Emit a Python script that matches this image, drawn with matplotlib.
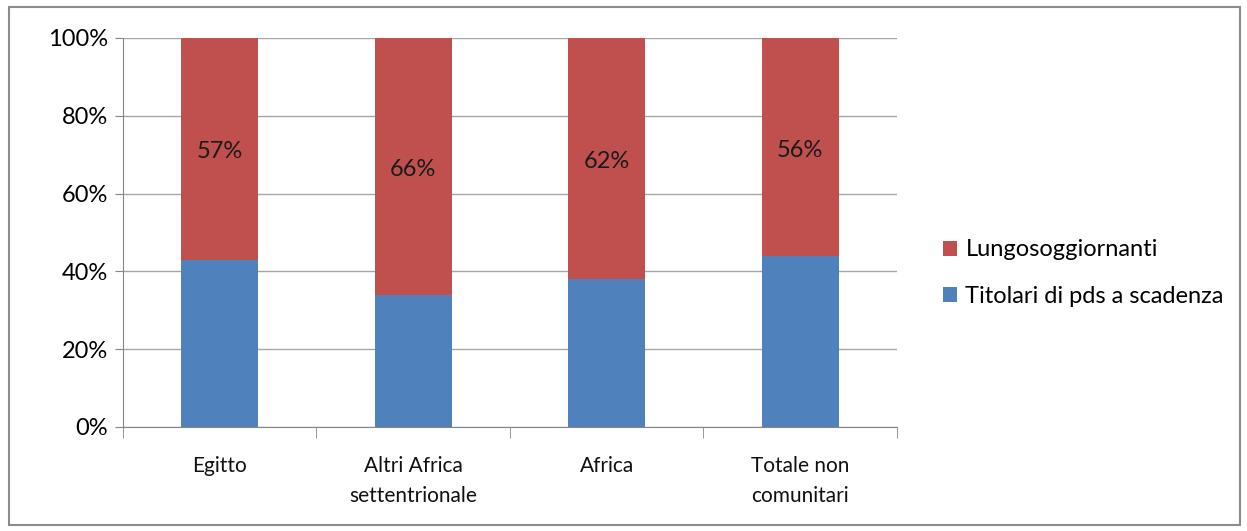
import numpy as np
import matplotlib.pyplot as plt
from matplotlib.patches import Rectangle

# Dati
categorie = ['Egitto', 'Altri Africa\nsettentrionale', 'Africa', 'Totale non\ncomunitari']
titolari = [43, 34, 38, 44]
lungo = [57, 66, 62, 56]

plt.rcParams['font.family'] = ['Lato', 'DejaVu Sans']

fig = plt.figure(figsize=(12.47, 5.31), dpi=100)
ax = fig.add_axes([0.0986, 0.1959, 0.6207, 0.7326])

x = np.arange(len(categorie))
blu = '#4f81bd'
rosso = '#c0504d'
b1 = ax.bar(x, titolari, width=0.4, color=blu, zorder=3, label='Titolari di pds a scadenza')
b2 = ax.bar(x, lungo, width=0.4, bottom=titolari, color=rosso, zorder=3, label='Lungosoggiornanti')

for xi, b, v in zip(x, titolari, lungo):
    ax.text(xi, b + v / 2 - 0.8, f'{v}%', ha='center', va='center', fontsize=17, color='#1a1a1a', zorder=4)

ax.set_xlim(-0.5, len(categorie) - 0.5)
ax.set_ylim(0, 100)
ax.set_yticks(np.arange(0, 101, 20))
ax.set_yticklabels([f'{v}%' for v in range(0, 101, 20)], fontsize=17)
ax.yaxis.grid(True, color='#a6a6a6', linewidth=1, zorder=0)
ax.tick_params(axis='y', length=6, color='#868686', pad=5)

ax.set_xticks(x)
ax.set_xticklabels(categorie, fontsize=15, linespacing=1.6, color='#111111')
ax.tick_params(axis='x', length=0, pad=21)
ax.set_xticks(np.arange(-0.5, len(categorie)), minor=True)
ax.tick_params(axis='x', which='minor', length=8, color='#868686')

for s in ['top', 'right']:
    ax.spines[s].set_visible(False)
for s in ['left', 'bottom']:
    ax.spines[s].set_color('#868686')

ax.legend(handles=[b2, b1], loc='center left', bbox_to_anchor=(1.032, 0.395), frameon=False,
          fontsize=17, handlelength=0.6, handleheight=0.6, handletextpad=0.35, labelspacing=1.1)

fig.patches.append(Rectangle((0.007, 0.012), 0.987, 0.974, transform=fig.transFigure,
                             fill=False, edgecolor='#8c8c8c', linewidth=1.5))

fig.savefig('out.png', dpi=100)
